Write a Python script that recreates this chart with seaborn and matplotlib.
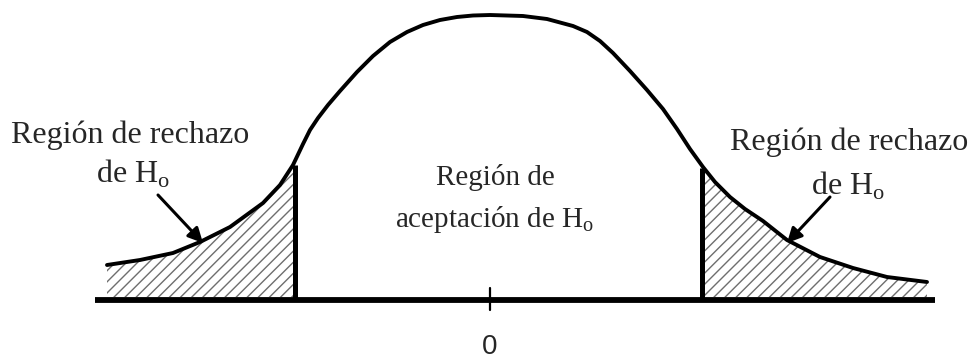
import numpy as np
import seaborn as sns
import matplotlib.pyplot as plt

# curve (arbitrary units, baseline at 0, centre at 0)
curve_x = [-3.83, -3.50, -3.17, -2.90, -2.60, -2.27, -2.10, -1.97,
           -1.87, -1.80, -1.72, -1.62, -1.50, -1.33, -1.17, -1.00, -0.83,
           -0.67, -0.50, -0.33, -0.17, 0.00, 0.33, 0.57, 0.83, 0.97,
           1.10, 1.23, 1.40, 1.57, 1.73, 1.87, 2.00, 2.13,
           2.25, 2.40, 2.55, 2.73, 2.97, 3.30, 3.63, 3.97, 4.37]
curve_y = [0.35, 0.40, 0.47, 0.58, 0.73, 0.97, 1.15, 1.35,
           1.56, 1.70, 1.82, 1.95, 2.09, 2.28, 2.44, 2.58, 2.68,
           2.75, 2.80, 2.83, 2.845, 2.85, 2.84, 2.81, 2.74, 2.68,
           2.59, 2.47, 2.29, 2.10, 1.91, 1.71, 1.51, 1.33,
           1.18, 1.03, 0.91, 0.79, 0.60, 0.43, 0.32, 0.23, 0.18]

crit_x = [-1.95, 2.12]
crit_top = [1.35, 1.32]
axis_span = [-3.95, 4.45]
tick_labels = ["0"]

sns.set_theme(style="white")
plt.rcParams["font.family"] = ["Liberation Serif", "DejaVu Serif"]
plt.rcParams["mathtext.fontset"] = "custom"
plt.rcParams["mathtext.rm"] = "Liberation Serif"
plt.rcParams["hatch.linewidth"] = 1.0

fig = plt.figure(figsize=(9.7, 3.6), dpi=100)
ax = fig.add_axes([0, 0, 1, 1])
ax.set_xlim(-4.9, 4.8)
ax.set_ylim(-0.6, 3.0)
ax.axis("off")

cx = np.array(curve_x)
cy = np.array(curve_y)

# hatched rejection regions
left = cx <= crit_x[0]
right = cx >= crit_x[1]
ax.fill_between(np.append(cx[left], crit_x[0]), 0.03, np.append(cy[left], crit_top[0]),
                facecolor="white", edgecolor="#6e6e6e", linewidth=0, hatch="///")
ax.fill_between(np.insert(cx[right], 0, crit_x[1]), 0.03, np.insert(cy[right], 0, crit_top[1]),
                facecolor="white", edgecolor="#6e6e6e", linewidth=0, hatch="///")

sns.lineplot(x=curve_x, y=curve_y, color="black", linewidth=2.8, sort=False, ax=ax,
             solid_joinstyle="round")

ax.vlines(crit_x, 0, crit_top, color="black", linewidth=3.6)
ax.plot(axis_span, [0, 0], color="black", linewidth=4.2, solid_capstyle="butt")
ax.plot([0, 0], [-0.10, 0.12], color="black", linewidth=1.6)
ax.text(0, -0.47, tick_labels[0], ha="center", va="center", fontsize=20,
        family=["Liberation Sans", "DejaVu Sans"])

fs_side = 23
fs_mid = 21
ax.text(-3.6, 1.57, "Región de rechazo", ha="center", va="baseline", fontsize=fs_side)
ax.text(-3.57, 1.17, r"de H$_{\mathrm{o}}$", ha="center", va="baseline", fontsize=fs_side)
ax.text(0.05, 1.15, "Región de", ha="center", va="baseline", fontsize=fs_mid)
ax.text(0.05, 0.73, r"aceptación de H$_{\mathrm{o}}$", ha="center", va="baseline", fontsize=fs_mid)
ax.text(3.59, 1.50, "Región de rechazo", ha="center", va="baseline", fontsize=fs_side)
ax.text(3.58, 1.05, r"de H$_{\mathrm{o}}$", ha="center", va="baseline", fontsize=fs_side)

arrow = dict(arrowstyle="-|>", color="black", lw=2.2, mutation_scale=22, shrinkA=0, shrinkB=0)
ax.annotate("", xy=(-2.87, 0.57), xytext=(-3.32, 1.05), arrowprops=arrow)
ax.annotate("", xy=(2.97, 0.57), xytext=(3.40, 1.03), arrowprops=arrow)

fig.savefig("out.png", dpi=100)
